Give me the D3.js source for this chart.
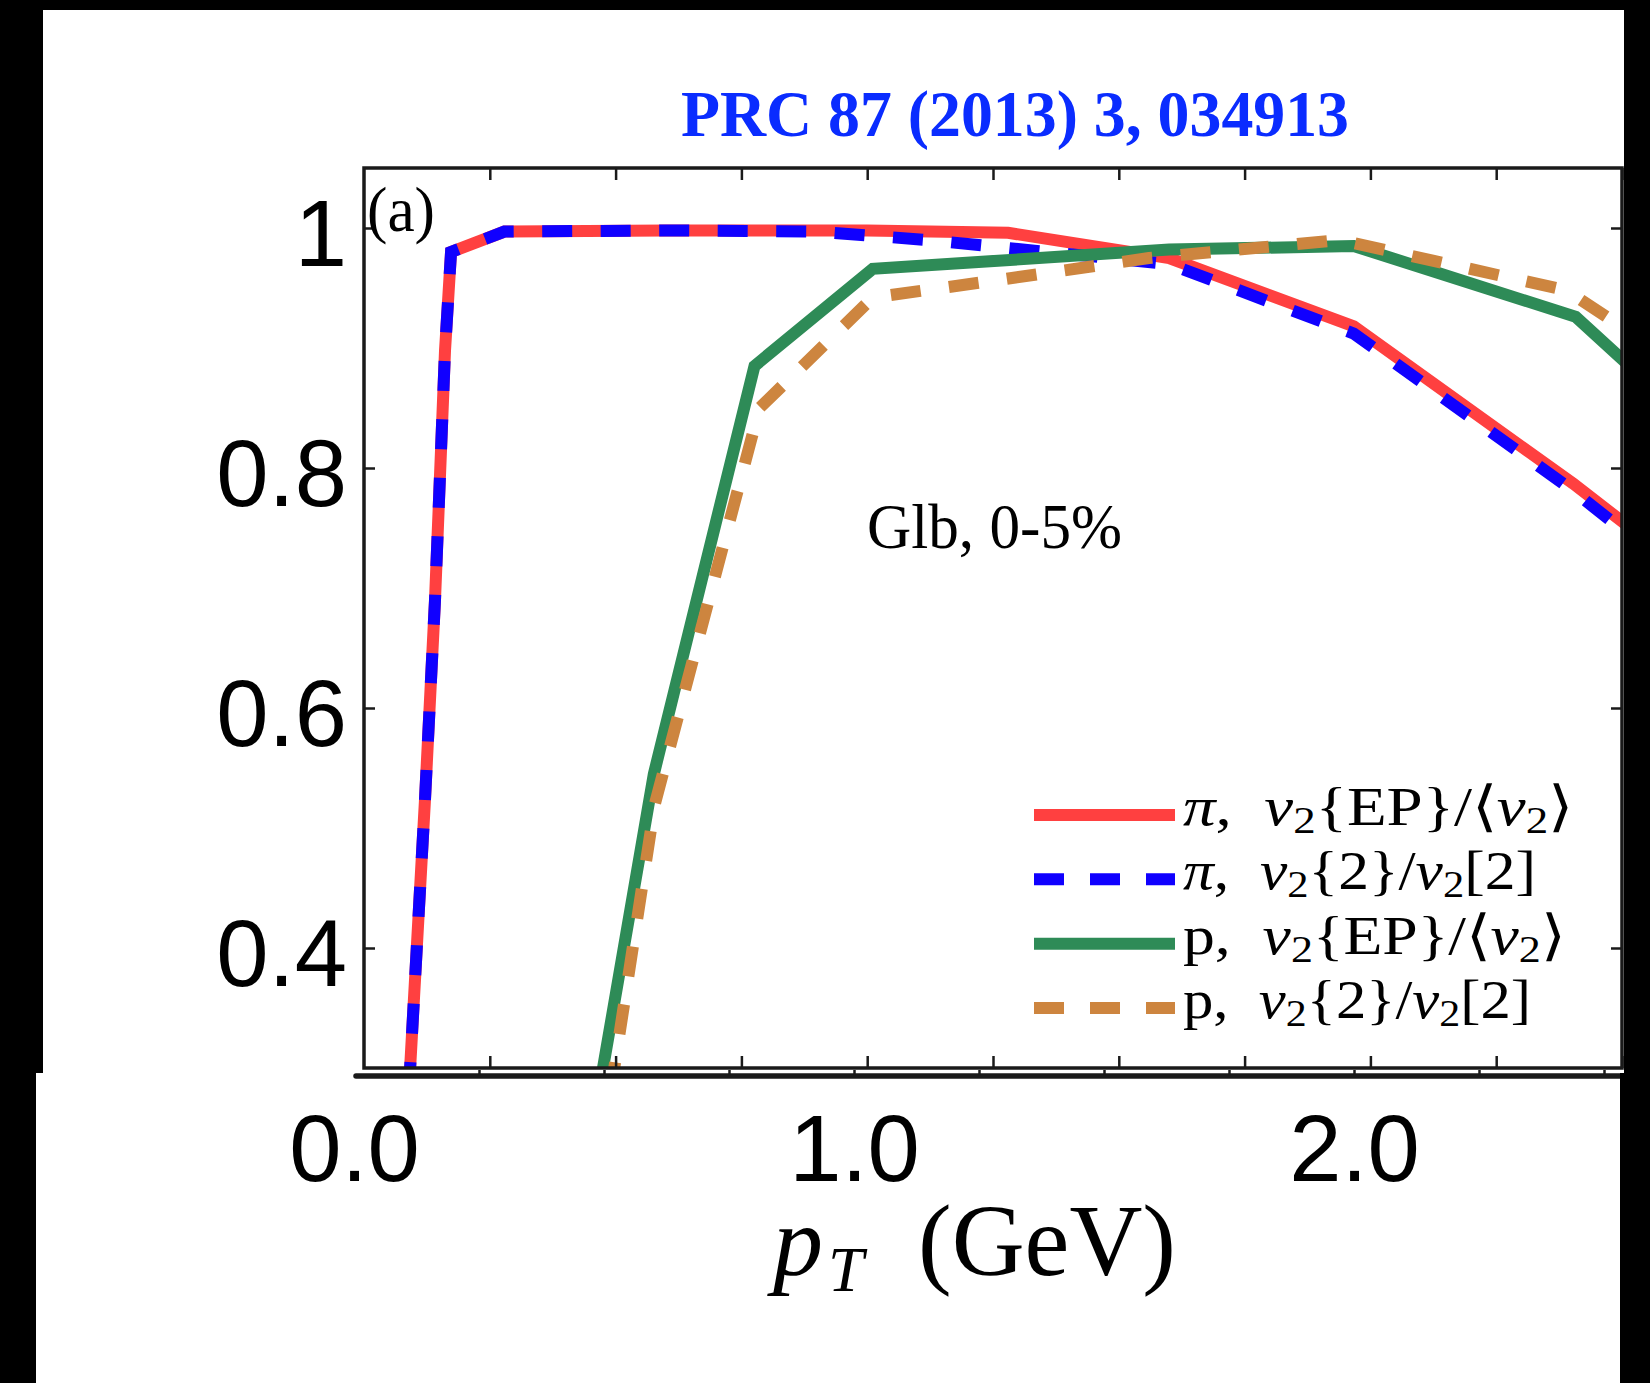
<!DOCTYPE html>
<meta charset="utf-8">
<script src="https://d3js.org/d3.v7.min.js"></script>
<style>
  body { margin: 0; background: #fff; }
  svg { display: block; }
</style>
<div id="my_dataviz"></div>
<script>

// values: pT in GeV, ratio on the y axis
var piEP_pt = [0.089, 0.121, 0.141, 0.161, 0.173, 0.279, 0.60, 1.00, 1.28, 1.60, 1.967, 2.403, 2.52];
var piEP_v  = [0.280, 0.522, 0.689, 0.898, 0.980, 0.997, 0.998, 0.998, 0.996, 0.975, 0.918, 0.787, 0.749];

var pi2_pt = [0.089, 0.121, 0.141, 0.161, 0.173, 0.279, 0.60, 0.90, 1.12, 1.60, 1.967, 2.403, 2.52];
var pi2_v  = [0.280, 0.522, 0.689, 0.898, 0.980, 0.997, 0.998, 0.997, 0.990, 0.970, 0.912, 0.781, 0.742];

var pEP_pt = [0.467, 0.475, 0.576, 0.776, 1.011, 1.60, 1.967, 2.408, 2.52];
var pEP_v  = [0.280, 0.300, 0.545, 0.885, 0.966, 0.982, 0.985, 0.926, 0.883];

var p2_pt = [0.490, 0.578, 0.786, 1.011, 1.25, 1.56, 1.94, 2.39, 2.52];
var p2_v  = [0.280, 0.520, 0.850, 0.942, 0.956, 0.975, 0.990, 0.948, 0.912];

var yTicks = [0.4, 0.6, 0.8, 1.0];
var yTickLabels = ["0.4", "0.6", "0.8", "1"];
var xMinorTicks = [0.25, 0.5, 0.75, 1.0, 1.25, 1.5, 1.75, 2.0, 2.25, 2.5];
var xLabelTicks = [0, 1, 2];
var xTickLabels = ["0.0", "1.0", "2.0"];

var legendParticle = ["π", "π", "p", "p"];
var legendMethod = ["EP", "2", "EP", "2"];
var legendWidth = [390, 353, 382, 348];
var seriesColor = ["#ff4040", "#1000ff", "#2e8b57", "#cd853f"];

var W = 1650, H = 1383;

var svg = d3.select("#my_dataviz")
  .append("svg")
  .attr("width", W)
  .attr("height", H);

// plot box
var x = d3.scaleLinear().domain([0, 2.5]).range([364, 1622]);
var y = d3.scaleLinear().domain([0.3, 1.05]).range([1068, 168]);
// the pasted lower axis strip has its own slightly different scale
var x2 = d3.scaleLinear().domain([0, 2.5]).range([354, 1604]);

svg.append("defs").append("clipPath").attr("id", "plotclip")
  .append("rect")
  .attr("x", x(0)).attr("y", y(1.05))
  .attr("width", x(2.5) - x(0)).attr("height", y(0.3) - y(1.05));

// title
svg.append("text")
  .attr("x", 1015).attr("y", 136)
  .attr("text-anchor", "middle")
  .attr("textLength", 668).attr("lengthAdjust", "spacingAndGlyphs")
  .style("font-family", "Liberation Serif")
  .style("font-weight", "bold")
  .style("font-size", "66px")
  .style("fill", "#0a2cff")
  .text("PRC 87 (2013) 3, 034913");

// curves
var series = [
  {pt: piEP_pt, v: piEP_v, dash: null},
  {pt: pi2_pt, v: pi2_v, dash: "30,28.5"},
  {pt: pEP_pt, v: pEP_v, dash: null},
  {pt: p2_pt, v: p2_v, dash: "30,28.5"}
];

var line = d3.line()
  .x(function(d) { return x(d[0]); })
  .y(function(d) { return y(d[1]); });

var curves = svg.append("g").attr("clip-path", "url(#plotclip)");
series.forEach(function(s, i) {
  curves.append("path")
    .datum(d3.zip(s.pt, s.v))
    .attr("d", line)
    .attr("fill", "none")
    .attr("stroke", seriesColor[i])
    .attr("stroke-width", 12)
    .attr("stroke-dasharray", s.dash);
});

// axes: inward ticks on all four sides
function styleAxis(g) {
  g.select(".domain").remove();
  g.selectAll(".tick line").attr("stroke", "#1a1a1a").attr("stroke-width", 2.5);
}

svg.append("g")
  .attr("transform", "translate(" + x(0) + ",0)")
  .call(d3.axisLeft(y).tickValues(yTicks).tickSizeInner(-11).tickSizeOuter(0).tickPadding(17)
    .tickFormat(function(d, i) { return yTickLabels[i]; }))
  .call(styleAxis)
  .selectAll("text")
  .attr("dy", "0.40em")
  .style("font-family", "Liberation Sans")
  .style("font-size", "94px")
  .style("fill", "#000");

svg.append("g")
  .attr("transform", "translate(" + x(2.5) + ",0)")
  .call(d3.axisRight(y).tickValues(yTicks).tickSizeInner(-11).tickSizeOuter(0).tickFormat(""))
  .call(styleAxis);

svg.append("g")
  .attr("transform", "translate(0," + y(1.05) + ")")
  .call(d3.axisTop(x).tickValues(xMinorTicks).tickSizeInner(-12).tickSizeOuter(0).tickFormat(""))
  .call(styleAxis);

svg.append("g")
  .attr("transform", "translate(0," + y(0.3) + ")")
  .call(d3.axisBottom(x).tickValues(xMinorTicks).tickSizeInner(-12).tickSizeOuter(0).tickFormat(""))
  .call(styleAxis);

// frame
svg.append("rect")
  .attr("x", x(0)).attr("y", y(1.05))
  .attr("width", x(2.5) - x(0)).attr("height", y(0.3) - y(1.05))
  .attr("fill", "none")
  .attr("stroke", "#1a1a1a")
  .attr("stroke-width", 3.5);

// lower strip: thick axis line, small ticks and the tick labels
svg.append("line")
  .attr("x1", 356).attr("x2", 1626)
  .attr("y1", 1076).attr("y2", 1076)
  .attr("stroke", "#1a1a1a")
  .attr("stroke-width", 5.5)
  .attr("stroke-linecap", "round");

svg.append("g")
  .attr("transform", "translate(0,1076)")
  .call(d3.axisBottom(x2).tickValues(xMinorTicks).tickSizeInner(-6).tickSizeOuter(0).tickFormat(""))
  .call(styleAxis);

svg.append("g")
  .attr("transform", "translate(0,1076)")
  .call(d3.axisBottom(x2).tickValues(xLabelTicks).tickSize(0).tickPadding(38)
    .tickFormat(function(d, i) { return xTickLabels[i]; }))
  .call(function(g) { g.select(".domain").remove(); })
  .selectAll("text")
  .style("font-family", "Liberation Sans")
  .style("font-size", "94px")
  .style("fill", "#000");

// axis title  p_T (GeV)
var xt = svg.append("text")
  .style("font-family", "Liberation Serif")
  .style("fill", "#000");
xt.append("tspan").attr("x", 773).attr("y", 1275)
  .style("font-style", "italic").style("font-size", "100px").text("p");
xt.append("tspan").attr("x", 828).attr("y", 1291)
  .style("font-style", "italic").style("font-size", "64px").text("T");
xt.append("tspan").attr("x", 918).attr("y", 1275)
  .attr("textLength", 258).attr("lengthAdjust", "spacingAndGlyphs")
  .style("font-size", "102px").text("(GeV)");

// panel label and system label
svg.append("text")
  .attr("x", 367).attr("y", 231)
  .attr("textLength", 68).attr("lengthAdjust", "spacingAndGlyphs")
  .style("font-family", "Liberation Serif")
  .style("font-size", "63px")
  .text("(a)");

svg.append("text")
  .attr("x", 867).attr("y", 548)
  .attr("textLength", 255).attr("lengthAdjust", "spacingAndGlyphs")
  .style("font-family", "Liberation Serif")
  .style("font-size", "63px")
  .text("Glb, 0-5%");

// legend
var legY = d3.scalePoint().domain(d3.range(4)).range([815, 1008]);
var leg = svg.append("g");
legendParticle.forEach(function(part, i) {
  var cy = legY(i);
  leg.append("line")
    .attr("x1", 1034).attr("x2", 1175)
    .attr("y1", cy).attr("y2", cy)
    .attr("stroke", seriesColor[i])
    .attr("stroke-width", 12)
    .attr("stroke-dasharray", series[i].dash ? "30,26" : null);

  var t = leg.append("text")
    .attr("x", 1183).attr("y", cy + 10)
    .attr("textLength", legendWidth[i]).attr("lengthAdjust", "spacingAndGlyphs")
    .style("font-family", "Liberation Serif")
    .style("font-size", "55px")
    .style("fill", "#000");
  t.append("tspan").style("font-style", part === "π" ? "italic" : "normal").text(part);
  t.append("tspan").text(",\u2002");
  t.append("tspan").style("font-style", "italic").text("v");
  t.append("tspan").attr("dy", 8).style("font-size", "38px").text("2");
  t.append("tspan").attr("dy", -8).text("{" + legendMethod[i] + "}/" + (legendMethod[i] === "EP" ? "\u27E8" : ""));
  t.append("tspan").style("font-style", "italic").text("v");
  t.append("tspan").attr("dy", 8).style("font-size", "38px").text("2");
  t.append("tspan").attr("dy", -8).text(legendMethod[i] === "EP" ? "\u27E9" : "[2]");
});

// black borders of the screenshot
var black = svg.append("g").attr("fill", "#000");
black.append("rect").attr("x", 0).attr("y", 0).attr("width", W).attr("height", 10);
black.append("rect").attr("x", 0).attr("y", 0).attr("width", 43).attr("height", 1073);
black.append("rect").attr("x", 0).attr("y", 1073).attr("width", 36).attr("height", H - 1073);
black.append("rect").attr("x", 1624).attr("y", 0).attr("width", W - 1624).attr("height", 1073);
black.append("rect").attr("x", 1620).attr("y", 1073).attr("width", W - 1620).attr("height", H - 1073);

</script>
